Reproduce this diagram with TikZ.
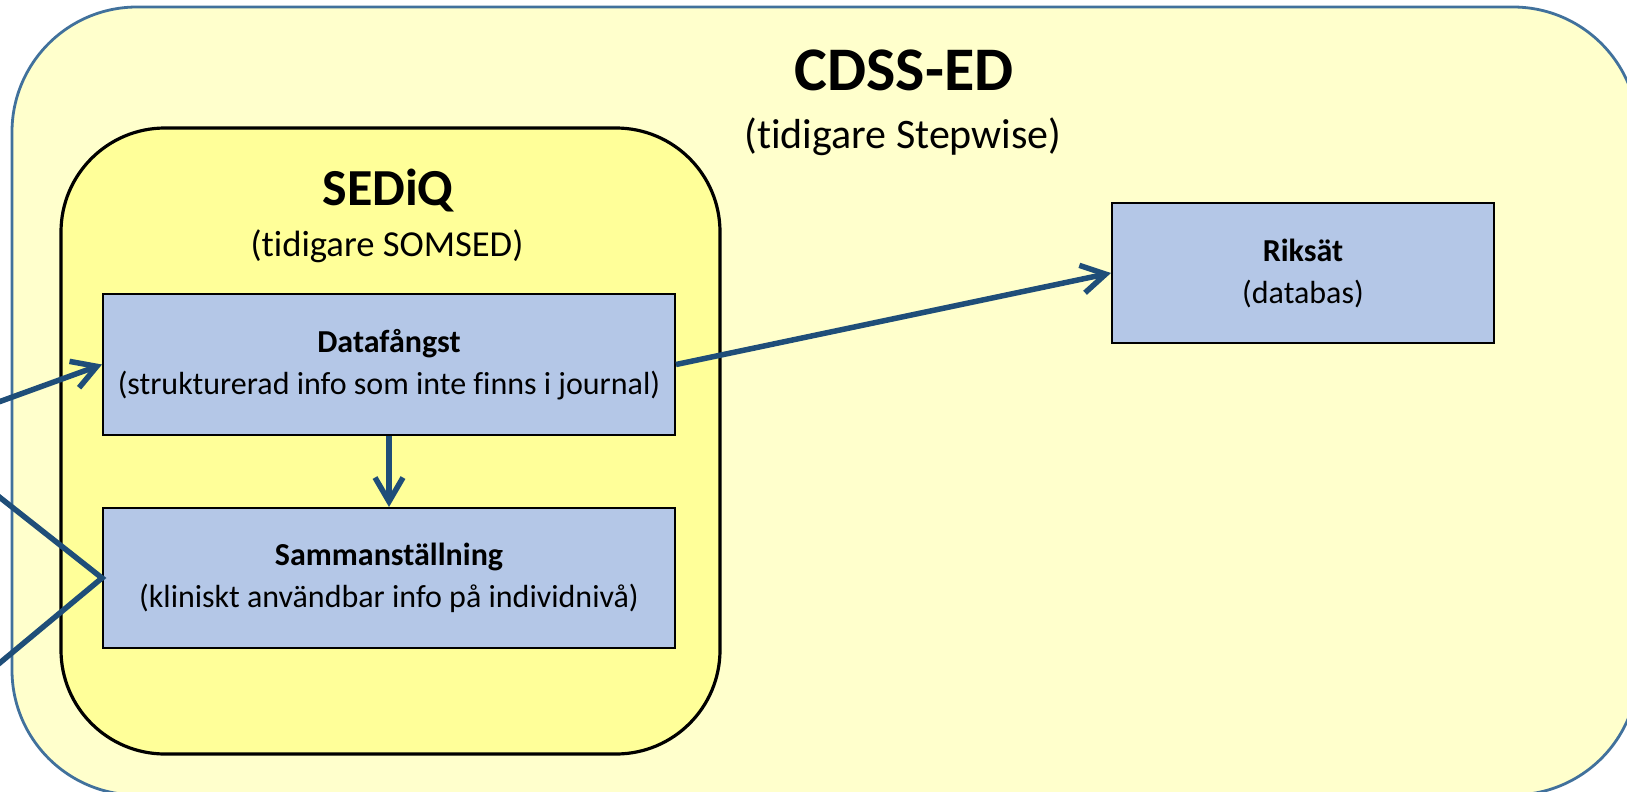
\documentclass[tikz,border=0pt]{standalone}
\usepackage{fontspec}
\setmainfont[Ligatures={NoCommon}]{Carlito}
\usetikzlibrary{arrows.meta}
\definecolor{outerfill}{HTML}{FFFFCC}
\definecolor{outerline}{HTML}{41719C}
\definecolor{innerfill}{HTML}{FFFF99}
\definecolor{boxfill}{HTML}{B4C7E7}
\definecolor{arrowcol}{HTML}{1F4E79}
\tikzset{
  outerbox/.style={draw=outerline, fill=outerfill, line width=2.8pt, rounded corners=125pt, inner sep=0pt},
  innerbox/.style={draw=black, fill=innerfill, line width=3.2pt, rounded corners=104pt, inner sep=0pt},
  procbox/.style={draw=black, fill=boxfill, line width=2pt, inner sep=0pt, align=center,
    font=\fontsize{32}{42}\selectfont},
  conn/.style={draw=arrowcol, line width=5.5pt},
  arr/.style={conn, -{Straight Barb[length=24pt, width=28pt, line width=5.5pt]}},
  titletext/.style={inner sep=0pt, anchor=base},
}
\begin{document}
\begin{tikzpicture}[x=1pt, y=-1pt]
\useasboundingbox (0,0) rectangle (1627,792);
% containers
\node[outerbox, minimum width=1626pt, minimum height=788pt] (cdss) at (825,401) {};
\node[innerbox, minimum width=659pt, minimum height=626pt] (sediq) at (390.5,441) {};
% titles
\node[titletext, font=\fontsize{62}{70}\selectfont\bfseries] (cdsstitle) at (904,90) {CDSS-ED};
\node[titletext, font=\fontsize{42}{50}\selectfont] (cdsssub) at (903,148) {(tidigare Stepwise)};
\node[titletext, font=\fontsize{52}{60}\selectfont\bfseries] (sediqtitle) at (388,205) {SEDiQ};
\node[titletext, font=\fontsize{36.6}{44}\selectfont] (sediqsub) at (387,256) {(tidigare SOMSED)};
% process boxes
\node[procbox, minimum width=572pt, minimum height=141pt] (dat) at (389,364.5)
  {\textbf{Datafångst}\\(strukturerad info som inte finns i journal)};
\node[procbox, minimum width=572pt, minimum height=140pt] (sam) at (389,578)
  {\textbf{Sammanställning}\\(kliniskt användbar info på individnivå)};
\node[procbox, minimum width=382pt, minimum height=140pt] (rik) at (1303,273)
  {\textbf{Riksät}\\(databas)};
% free ends outside the picture
\coordinate (in1) at (-40,416);
\coordinate (in2) at (-40,466);
\coordinate (in3) at (-40,696);
% connectors
\draw[arr] (in1) -- (dat.west);
\draw[conn] (in2) -- (sam.west) -- (in3);
\draw[arr] (dat.south) -- (sam.north);
\draw[arr] (dat.east) -- (rik.west);
\end{tikzpicture}
\end{document}
